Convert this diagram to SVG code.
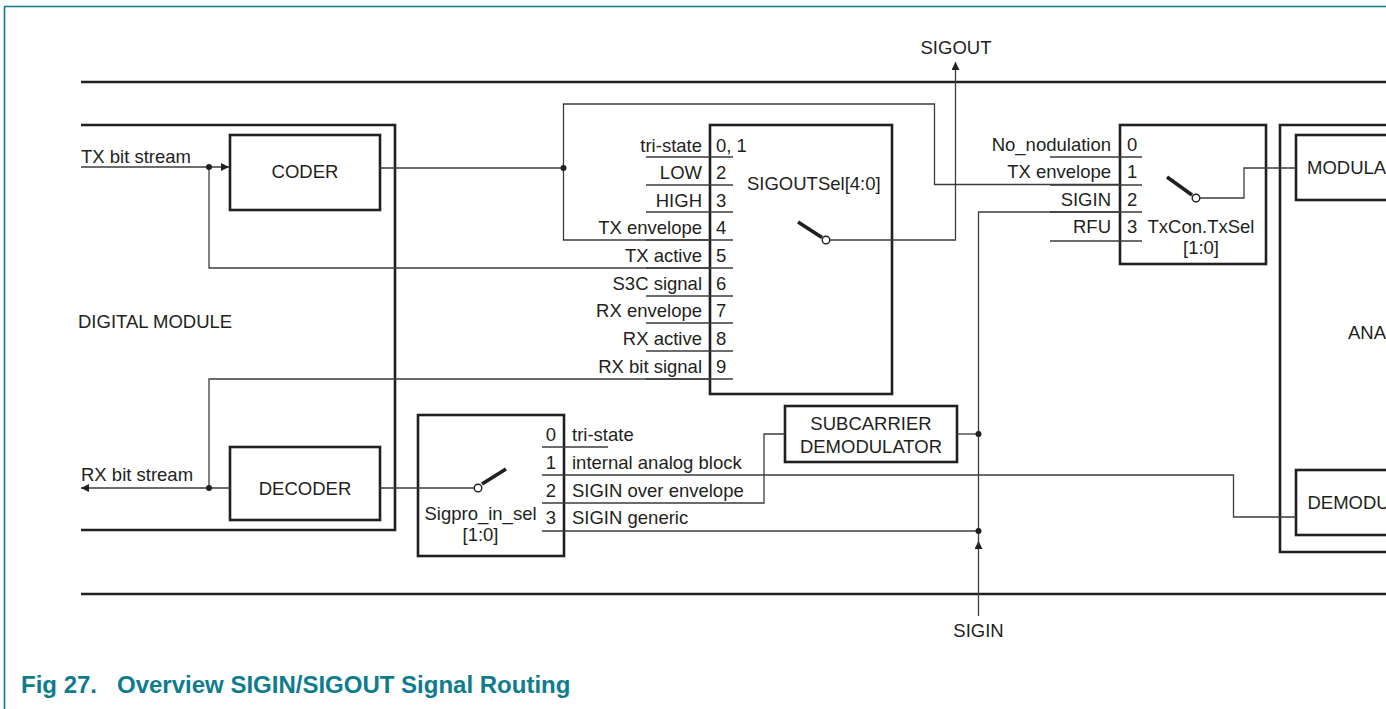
<svg xmlns="http://www.w3.org/2000/svg" width="1386" height="709" viewBox="0 0 1386 709">
<style>
text{font-family:"Liberation Sans",Arial,sans-serif;font-size:18.5px;fill:#231f20}
.r{text-anchor:end}
.m{text-anchor:middle}
.thick{fill:none;stroke:#231f20;stroke-width:2.6}
.thin{fill:none;stroke:#3c3c3c;stroke-width:1.3}
.box{fill:#fff;stroke:#231f20;stroke-width:2.6}
.lever{stroke:#231f20;stroke-width:3.6}
.pivot{fill:#fff;stroke:#231f20;stroke-width:1.4}
.dot{fill:#231f20}
.cap{font-size:24px;font-weight:bold;fill:#0e7c8e}
</style>
<defs>
<marker id="arr" viewBox="0 0 10 10" refX="10" refY="5" markerWidth="8" markerHeight="8" markerUnits="userSpaceOnUse" orient="auto">
<path d="M0,0 L10,5 L0,10 z" fill="#231f20"/>
</marker>
</defs>
<rect width="1386" height="709" fill="#fff"/>
<path d="M4.5,709 V6.5 H1386" fill="none" stroke="#0e7c8e" stroke-width="1.6"/>

<g id="frame">
<path class="thick" d="M81,82 H1386"/>
<path class="thick" d="M81,594 H1386"/>
</g>

<g id="digital-module">
<path class="thick" d="M81,125 H395 V530 H81"/>
<text x="78" y="328">DIGITAL MODULE</text>
</g>

<g id="analog-module">
<path class="thick" d="M1386,125 H1280 V552 H1386"/>
<text x="1348" y="339">ANA</text>
</g>

<g id="coder">
<rect class="box" x="230" y="135" width="150" height="75"/>
<text class="m" x="305" y="178">CODER</text>
</g>

<g id="decoder">
<rect class="box" x="230" y="447" width="150" height="73"/>
<text class="m" x="305" y="495">DECODER</text>
</g>

<g id="sigoutsel">
<rect class="box" x="710" y="125" width="182" height="269"/>
<path class="thin" d="M646,157 H733 M646,185 H733 M646,212 H733 M646,240 H733 M646,268 H733 M646,296 H733 M646,323 H733 M646,351 H733 M646,379 H733"/>
<text class="r" x="702" y="151.5">tri-state</text>
<text class="r" x="702" y="179">LOW</text>
<text class="r" x="702" y="206.5">HIGH</text>
<text class="r" x="702" y="234">TX envelope</text>
<text class="r" x="702" y="262">TX active</text>
<text class="r" x="702" y="289.5">S3C signal</text>
<text class="r" x="702" y="317">RX envelope</text>
<text class="r" x="702" y="345">RX active</text>
<text class="r" x="702" y="372.5">RX bit signal</text>
<text x="716" y="151.5">0, 1</text>
<text x="716" y="179">2</text>
<text x="716" y="206.5">3</text>
<text x="716" y="234">4</text>
<text x="716" y="262">5</text>
<text x="716" y="289.5">6</text>
<text x="716" y="317">7</text>
<text x="716" y="345">8</text>
<text x="716" y="372.5">9</text>
<text x="747" y="190">SIGOUTSel[4:0]</text>
<line class="lever" x1="798" y1="222" x2="822" y2="237.5"/>
<circle class="pivot" cx="826" cy="240" r="3.8"/>
</g>

<g id="txcon">
<rect class="box" x="1120" y="125" width="146" height="139"/>
<path class="thin" d="M1050,157 H1142 M1050,185 H1142 M1050,212 H1142 M1050,241 H1142"/>
<text class="r" x="1111" y="151">No_nodulation</text>
<text class="r" x="1111" y="178">TX envelope</text>
<text class="r" x="1111" y="205.5">SIGIN</text>
<text class="r" x="1111" y="233">RFU</text>
<text x="1127" y="151">0</text>
<text x="1127" y="178">1</text>
<text x="1127" y="205.5">2</text>
<text x="1127" y="233">3</text>
<text class="m" x="1201" y="233">TxCon.TxSel</text>
<text class="m" x="1201" y="254">[1:0]</text>
<line class="lever" x1="1167" y1="177" x2="1192" y2="195"/>
<circle class="pivot" cx="1196" cy="198" r="3.8"/>
</g>

<g id="sigpro">
<rect class="box" x="418" y="415" width="146" height="141"/>
<path class="thin" d="M542,447 H608 M542,475 H564 M542,503 H564 M542,531 H564"/>
<text class="m" x="551" y="440.5">0</text>
<text class="m" x="551" y="468.5">1</text>
<text class="m" x="551" y="496.5">2</text>
<text class="m" x="551" y="524">3</text>
<text x="572" y="440.5">tri-state</text>
<text x="572" y="468.5">internal analog block</text>
<text x="572" y="496.5">SIGIN over envelope</text>
<text x="572" y="524">SIGIN generic</text>
<text class="m" x="480.5" y="520">Sigpro_in_sel</text>
<text class="m" x="480.5" y="541">[1:0]</text>
<line class="lever" x1="482" y1="484" x2="506" y2="469"/>
<circle class="pivot" cx="478" cy="488" r="3.8"/>
</g>

<g id="subcarrier">
<rect class="box" x="785" y="406" width="172" height="56"/>
<text class="m" x="871" y="430">SUBCARRIER</text>
<text class="m" x="871" y="452.5">DEMODULATOR</text>
</g>

<g id="modulator">
<rect class="box" x="1296" y="135" width="100" height="65"/>
<text x="1307" y="174">MODULA</text>
</g>

<g id="demodulator">
<rect class="box" x="1296" y="470" width="100" height="65"/>
<text x="1307.5" y="509">DEMODU</text>
</g>

<g id="connectors">
<path class="thin" d="M81,167 H229" marker-end="url(#arr)"/>
<path class="thin" d="M209,167 V268 H710"/>
<path class="thin" d="M380,168 H563.5"/>
<path class="thin" d="M710,240 H563.5 V104 H934.5 V184.5 H1120"/>
<path class="thin" d="M710,379 H209 V488"/>
<path class="thin" d="M230,488 H81" marker-end="url(#arr)"/>
<path class="thin" d="M380,488 H474"/>
<path class="thin" d="M830,240 H955.5 V62" marker-end="url(#arr)"/>
<path class="thin" d="M564,475 H1233.5 V517 H1296"/>
<path class="thin" d="M564,503 H764 V434 H785"/>
<path class="thin" d="M564,531 H978.5"/>
<path class="thin" d="M957,434 H978.5"/>
<path class="thin" d="M978.5,616 V541" marker-end="url(#arr)"/>
<path class="thin" d="M978.5,545 V212 H1120"/>
<path class="thin" d="M1200,198 H1244 V168 H1296"/>
<circle class="dot" cx="209" cy="167" r="3"/>
<circle class="dot" cx="563.5" cy="168" r="3"/>
<circle class="dot" cx="209" cy="488" r="3"/>
<circle class="dot" cx="978.5" cy="434" r="3"/>
<circle class="dot" cx="978.5" cy="531" r="3"/>
</g>

<g id="labels">
<text x="81" y="162.5">TX bit stream</text>
<text x="81" y="481">RX bit stream</text>
<text class="m" x="956" y="54">SIGOUT</text>
<text class="m" x="978.5" y="637">SIGIN</text>
</g>

<text class="cap" x="21" y="693">Fig 27.<tspan x="117">Overview SIGIN/SIGOUT Signal Routing</tspan></text>
</svg>
